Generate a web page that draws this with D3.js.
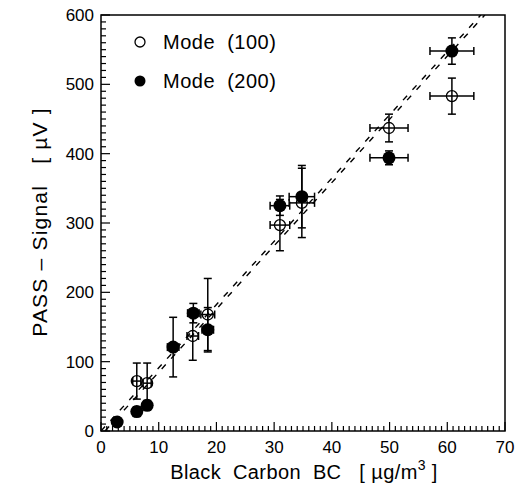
<!DOCTYPE html>
<html>
<head>
<meta charset="utf-8">
<script src="https://cdn.jsdelivr.net/npm/d3@7"></script>
<style>
  body { margin: 0; background: #fff; }
  text { font-family: "Liberation Sans", Arial, sans-serif; fill: #000; white-space: pre; }
</style>
</head>
<body>
<svg id="chart" width="522" height="493"></svg>
<script>
// Mode (100) - open circles
const m100X    = [6.2, 8.0, 15.9, 18.5, 31.0, 34.8, 49.9, 60.8];
const m100Y    = [72, 69, 137, 168, 297, 329, 437, 483];
const m100YErr = [26, 29, 35, 52, 37, 50, 20, 26];
const m100XErr = [0.7, 0.7, 1.0, 1.2, 1.7, 2.2, 3.3, 3.8];

// Mode (200) - filled circles
const m200X    = [2.8, 6.2, 8.0, 12.5, 16.0, 18.5, 31.0, 34.8, 49.9, 60.8];
const m200Y    = [13, 28, 37, 121, 170, 146, 325, 338, 394, 548];
const m200YErr = [4, 7, 7, 43, 14, 32, 14, 45, 10, 19];
const m200XErr = [0.6, 0.6, 0.6, 1.0, 1.0, 1.0, 1.7, 2.2, 3.3, 3.8];

// two fit lines (end points)
const fitA = [[0, 0], [65.8, 600]];
const fitB = [[0.7, 0], [66.5, 600]];

const xTicks = [0, 10, 20, 30, 40, 50, 60, 70];
const yTicks = [0, 100, 200, 300, 400, 500, 600];
const legendLabels = ['Mode  (100)', 'Mode  (200)'];

const svg = d3.select('#chart');
const pL = 101, pR = 505, pT = 15, pB = 431;

const x = d3.scaleLinear().domain([0, 70]).range([pL, pR]);
const y = d3.scaleLinear().domain([0, 600]).range([pB, pT]);

svg.append('clipPath').attr('id', 'clip')
  .append('rect').attr('x', pL).attr('y', pT)
  .attr('width', pR - pL).attr('height', pB - pT);

// frame
svg.append('rect')
  .attr('x', pL).attr('y', pT)
  .attr('width', pR - pL).attr('height', pB - pT)
  .attr('fill', 'none').attr('stroke', '#000').attr('stroke-width', 1.5);

// minor ticks inside
const g = svg.append('g').attr('stroke', '#000').attr('stroke-width', 1.2);
d3.range(0, 71, 1).forEach(v => {
  const len = v % 10 === 0 ? 9 : 5;
  g.append('line').attr('x1', x(v)).attr('x2', x(v))
    .attr('y1', pB).attr('y2', pB - len);
});
d3.range(0, 601, 10).forEach(v => {
  const len = v % 100 === 0 ? 9 : 5;
  g.append('line').attr('y1', y(v)).attr('y2', y(v))
    .attr('x1', pL).attr('x2', pL + len);
});

// tick labels
svg.selectAll('.xt').data(xTicks).enter().append('text')
  .attr('x', d => x(d)).attr('y', pB + 22)
  .attr('text-anchor', 'middle').attr('font-size', 17)
  .text(d => d);
svg.selectAll('.yt').data(yTicks).enter().append('text')
  .attr('x', pL - 7).attr('y', d => y(d) + 6)
  .attr('text-anchor', 'end').attr('font-size', 17)
  .text(d => d);

// axis titles
const xt = svg.append('text')
  .attr('x', 304).attr('y', 479)
  .attr('text-anchor', 'middle').attr('font-size', 20)
  .attr('letter-spacing', 0.4);
xt.append('tspan').text('Black  Carbon  BC   [ µg/m');
xt.append('tspan').attr('font-size', 14).attr('dy', -9).text('3');
xt.append('tspan').attr('dy', 9).text(' ]');

svg.append('text')
  .attr('transform', 'translate(47,' + 222 + ') rotate(-90)')
  .attr('text-anchor', 'middle').attr('font-size', 21)
  .attr('letter-spacing', 1.2)
  .text('PASS \u2013 Signal   [ µV ]');

// fit lines
const line = d3.line().x(d => x(d[0])).y(d => y(d[1]));
[fitA, fitB].forEach(f => {
  svg.append('path').datum(f)
    .attr('d', line)
    .attr('clip-path', 'url(#clip)')
    .attr('fill', 'none').attr('stroke', '#000')
    .attr('stroke-width', 1.4)
    .attr('stroke-dasharray', '6,8');
});

// error bars
function errorBars(xs, ys, xe, ye) {
  const eg = svg.append('g').attr('stroke', '#000').attr('stroke-width', 1.5);
  const cap = 4;
  xs.forEach((xv, i) => {
    const cx = x(xv), cy = y(ys[i]);
    const y0 = y(ys[i] - ye[i]), y1 = y(ys[i] + ye[i]);
    const x0 = x(xv - xe[i]), x1 = x(xv + xe[i]);
    eg.append('line').attr('x1', cx).attr('x2', cx).attr('y1', y0).attr('y2', y1);
    eg.append('line').attr('x1', cx - cap).attr('x2', cx + cap).attr('y1', y0).attr('y2', y0);
    eg.append('line').attr('x1', cx - cap).attr('x2', cx + cap).attr('y1', y1).attr('y2', y1);
    eg.append('line').attr('x1', x0).attr('x2', x1).attr('y1', cy).attr('y2', cy);
    eg.append('line').attr('x1', x0).attr('x2', x0).attr('y1', cy - cap).attr('y2', cy + cap);
    eg.append('line').attr('x1', x1).attr('x2', x1).attr('y1', cy - cap).attr('y2', cy + cap);
  });
}
errorBars(m100X, m100Y, m100XErr, m100YErr);
errorBars(m200X, m200Y, m200XErr, m200YErr);

// markers
svg.selectAll('.open').data(m100X).enter().append('circle')
  .attr('cx', d => x(d)).attr('cy', (d, i) => y(m100Y[i]))
  .attr('r', 5.5).attr('fill', 'none')
  .attr('stroke', '#000').attr('stroke-width', 1.3);
svg.selectAll('.filled').data(m200X).enter().append('circle')
  .attr('cx', d => x(d)).attr('cy', (d, i) => y(m200Y[i]))
  .attr('r', 6.5).attr('fill', '#000');

// legend
const leg = svg.append('g');
leg.append('circle').attr('cx', 140).attr('cy', 42).attr('r', 5)
  .attr('fill', 'none').attr('stroke', '#000').attr('stroke-width', 1.3);
leg.append('circle').attr('cx', 140).attr('cy', 81).attr('r', 5.5).attr('fill', '#000');
leg.selectAll('text').data(legendLabels).enter().append('text')
  .attr('x', 163).attr('y', (d, i) => 49 + i * 39)
  .attr('font-size', 20).attr('letter-spacing', 0.5)
  .text(d => d);
</script>
</body>
</html>
